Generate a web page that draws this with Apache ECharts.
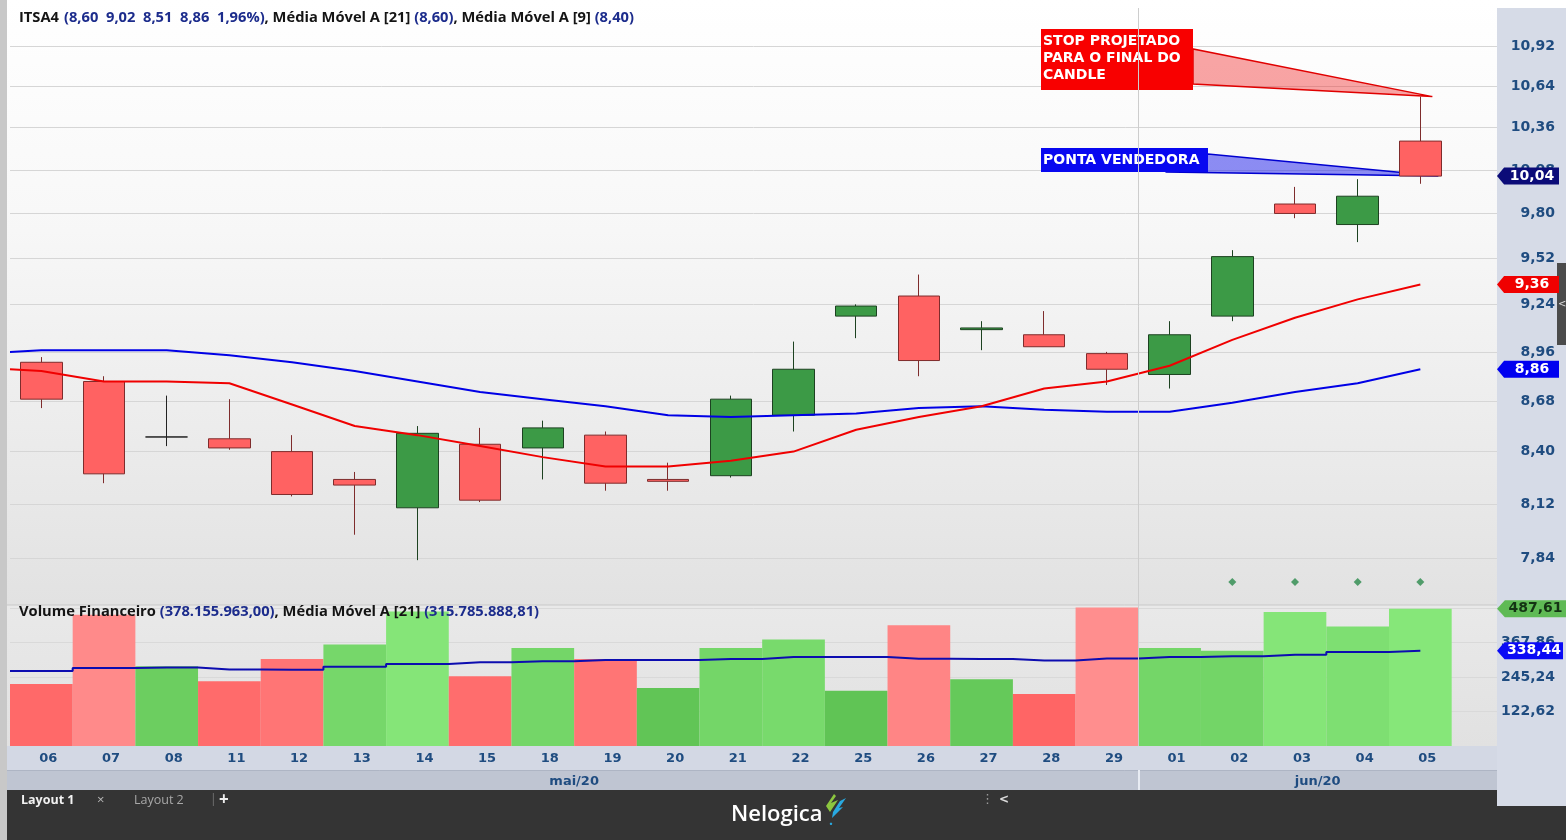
<!DOCTYPE html>
<html lang="pt-BR">
<head>
<meta charset="UTF-8">
<title>ITSA4</title>
<script src="https://cdn.jsdelivr.net/npm/echarts@6/dist/echarts.min.js"></script>
<style>
    html, body { margin: 0; padding: 0; background: #fff; }
    #main { width: 1566px; height: 840px; }
</style>
</head>
<body>
<div id="main"></div>
<script type="text/javascript">
// pregoes (mai/20 e jun/20)
var dias = ['06','07','08','11','12','13','14','15','18','19','20','21','22','25','26','27','28','29','01','02','03','04','05'];
var meses = ['mai/20', 'jun/20'];
var inicioMes = [0, 18];

// candles
var abertura   = [8.90, 8.79, 8.48, 8.47, 8.40, 8.25, 8.10, 8.44, 8.42, 8.49, 8.25, 8.27, 8.60, 9.17, 9.29, 9.09, 9.06, 8.95, 8.83, 9.17, 9.86, 9.73, 10.27];
var fechamento = [8.69, 8.28, 8.48, 8.42, 8.17, 8.22, 8.50, 8.14, 8.53, 8.23, 8.24, 8.69, 8.86, 9.23, 8.91, 9.10, 8.99, 8.86, 9.06, 9.53, 9.80, 9.91, 10.04];
var minima     = [8.64, 8.23, 8.43, 8.41, 8.16, 7.96, 7.83, 8.13, 8.25, 8.19, 8.19, 8.26, 8.51, 9.04, 8.82, 8.97, 8.99, 8.77, 8.75, 9.14, 9.77, 9.62, 9.99];
var maxima     = [8.93, 8.82, 8.71, 8.69, 8.49, 8.29, 8.54, 8.53, 8.57, 8.51, 8.34, 8.71, 9.02, 9.24, 9.42, 9.14, 9.20, 8.96, 9.14, 9.57, 9.97, 10.02, 10.57];

// medias moveis (valor na borda esquerda + um por pregao)
var mm9Ini = 8.86;
var mm9  = [8.85, 8.79, 8.79, 8.78, 8.66, 8.54, 8.49, 8.43, 8.37, 8.32, 8.32, 8.35, 8.40, 8.52, 8.59, 8.65, 8.75, 8.79, 8.88, 9.03, 9.16, 9.27, 9.36];
var mm21Ini = 8.96;
var mm21 = [8.97, 8.97, 8.97, 8.94, 8.90, 8.85, 8.79, 8.73, 8.69, 8.65, 8.60, 8.59, 8.60, 8.61, 8.64, 8.65, 8.63, 8.62, 8.62, 8.67, 8.73, 8.78, 8.86];

// volume financeiro (milhoes) e media 21
var volume = [220, 466, 283, 230, 309, 360, 478, 248, 348, 309, 206, 348, 378.155963, 196, 429, 237, 185, 492, 348, 338, 476, 424, 487.61];
var volMM21 = [266, 277, 279, 272, 271, 281, 291, 297, 301, 305, 305, 309, 315.78588881, 316, 310, 309, 304, 311, 316, 318.5, 324, 334, 338.44];

// eixos
var precoTicks = [7.84, 8.12, 8.40, 8.68, 8.96, 9.24, 9.52, 9.80, 10.08, 10.36, 10.64, 10.92];
var volTicks = [122.62, 245.24, 367.86, 490.48];

// sinais (losangos verdes)
var sinalIdx = [19, 20, 21, 22];
var sinalNivel = 7.72;

var notas = ['STOP PROJETADO\nPARA O FINAL DO\nCANDLE', 'PONTA VENDEDORA'];
var cursor = dias.indexOf('22');

// ---------------------------------------------------------------
var ln = Math.log;
var ult = dias.length - 1;
var X_MIN = -0.5, X_MAX = 23.223;
var BANDA = 1487 / (X_MAX - X_MIN);
var FONTE = 'DejaVu Sans';
var AZUL_EIXO = '#1f4c80';

function fmt(v) { return v.toFixed(2).replace('.', ','); }
function fmtMil(v) {
    var s = (v * 1e6).toFixed(2).split('.');
    return s[0].replace(/\B(?=(\d{3})+(?!\d))/g, '.') + ',' + s[1];
}
function mistura(a, b, t) {
    var r = [];
    for (var k = 0; k < 3; k++) {
        var ca = parseInt(a.substr(1 + 2 * k, 2), 16), cb = parseInt(b.substr(1 + 2 * k, 2), 16);
        r.push(Math.round(ca + (cb - ca) * t));
    }
    return 'rgb(' + r.join(',') + ')';
}
function corVolume(i) {
    var sobe = i === 0 ? fechamento[0] >= abertura[0] : fechamento[i] >= fechamento[i - 1];
    var t = Math.max(0, Math.min(1, (volume[i] - 180) / 320));
    return sobe ? mistura('#5ec253', '#88e87b', t) : mistura('#ff6464', '#ff8f8f', t);
}
function marcador(x, y, valor, cor, corTexto, largura) {
    return {
        coord: [x, y],
        value: valor,
        symbol: 'path://M0,9L8,0H70V18H8Z',
        symbolSize: [largura, 17],
        symbolOffset: [largura / 2, 0],
        itemStyle: { color: cor },
        label: {
            show: true, position: 'inside', offset: [4, 0],
            formatter: fmt(valor), color: corTexto,
            fontFamily: FONTE, fontWeight: 'bold', fontSize: 14
        }
    };
}

var candles = dias.map(function (d, i) {
    return [i, ln(abertura[i]), ln(fechamento[i]), ln(minima[i]), ln(maxima[i])];
});
var serieMM9 = [[X_MIN, ln(mm9Ini)]].concat(mm9.map(function (v, i) { return [i, ln(v)]; }));
var serieMM21 = [[X_MIN, ln(mm21Ini)]].concat(mm21.map(function (v, i) { return [i, ln(v)]; }));
var barras = dias.map(function (d, i) {
    return { value: [i, volume[i]], itemStyle: { color: corVolume(i) } };
});
var serieVolMM = [[X_MIN, volMM21[0]]].concat(volMM21.map(function (v, i) { return [i, v]; }));
var sinais = sinalIdx.map(function (i) { return [i, ln(sinalNivel)]; });

var viradaMes = inicioMes[1] - 0.5;
var centrosMes = meses.map(function (m, k) {
    var a = inicioMes[k] - 0.5;
    var b = k + 1 < meses.length ? inicioMes[k + 1] - 0.5 : X_MAX;
    return (a + b) / 2;
});

var linhaMes = {
    silent: true, symbol: 'none', label: { show: false },
    lineStyle: { color: '#cdcdcd', width: 1, type: 'solid' },
    data: [{ xAxis: viradaMes }]
};

// anotacoes desenhadas no grafico
var notaEstilo = [
    { box: [1041, 29, 152, 61], base: [[1193, 49], [1193, 84]], dx: 12, cor: '#f80000',
      fill: 'rgba(240,40,40,0.42)', stroke: '#e00000', ty: 33.5, lh: 16.7, va: 'top' },
    { box: [1041, 148, 167, 24], base: [[1208, 154], [1168, 172]], dx: 18, cor: '#0808f0',
      fill: 'rgba(30,30,235,0.5)', stroke: '#0000d0', ty: 160.5, lh: 18, va: 'middle' }
];

var cab = '{k|ITSA4} {v|(' + fmt(abertura[cursor]) + '  ' + fmt(maxima[cursor]) + '  ' + fmt(minima[cursor]) + '  ' +
    fmt(fechamento[cursor]) + '  ' + fmt((fechamento[cursor] / fechamento[cursor - 1] - 1) * 100) + '%)}' +
    '{k|, Média Móvel A [21] }{v|(' + fmt(mm21[cursor]) + ')}{k|, Média Móvel A [9] }{v|(' + fmt(mm9[cursor]) + ')}';
var cabVol = '{k|Volume Financeiro }{v|(' + fmtMil(volume[cursor]) + ')}{k|, Média Móvel A [21] }{v|(' + fmtMil(volMM21[cursor]) + ')}';
var richCab = {
    k: { color: '#141414', fontFamily: 'Open Sans', fontWeight: 'bold', fontSize: 14.7 },
    v: { color: '#1c2c8c', fontFamily: 'Open Sans', fontWeight: 'bold', fontSize: 14.7 }
};

var myChart = echarts.init(document.getElementById('main'));
myChart.setOption({
    animation: false,
    backgroundColor: '#ffffff',
    title: [
        { left: 19, top: 9, padding: 0, text: cab, textStyle: { rich: richCab } },
        { left: 19, top: 604, padding: 0, text: cabVol, textStyle: { rich: richCab } }
    ],
    graphic: [
        // fundos
        { type: 'rect', z: -10, shape: { x: 7, y: 0, width: 1490, height: 605 },
          style: { fill: { type: 'linear', x: 0, y: 0, x2: 0, y2: 1,
              colorStops: [{ offset: 0, color: '#ffffff' }, { offset: 0.35, color: '#f8f8f8' }, { offset: 1, color: '#e2e2e2' }] } } },
        { type: 'rect', z: -10, shape: { x: 7, y: 605, width: 1490, height: 141 },
          style: { fill: { type: 'linear', x: 0, y: 0, x2: 0, y2: 1,
              colorStops: [{ offset: 0, color: '#e9e9e9' }, { offset: 1, color: '#e1e1e1' }] } } },
        { type: 'line', z: -9, shape: { x1: 7, y1: 605, x2: 1497, y2: 605 }, style: { stroke: '#c9c9c9', lineWidth: 1 } },
        { type: 'rect', z: -10, shape: { x: 1497, y: 8, width: 69, height: 798 }, style: { fill: '#d6dbe7' } },
        { type: 'rect', z: -10, shape: { x: 7, y: 746, width: 1490, height: 24 }, style: { fill: '#d3d8e4' } },
        { type: 'rect', z: -10, shape: { x: 7, y: 770, width: 1490, height: 20 }, style: { fill: '#bfc5d2' } },
        { type: 'line', z: -9, shape: { x1: 7, y1: 770.5, x2: 1497, y2: 770.5 }, style: { stroke: '#aeb5c4', lineWidth: 1 } },
        { type: 'rect', z: -10, shape: { x: 0, y: 0, width: 7, height: 840 }, style: { fill: '#c8c8c8' } },
        { type: 'rect', z: -10, shape: { x: 7, y: 790, width: 1490, height: 50 }, style: { fill: '#343434' } },
        { type: 'rect', z: -10, shape: { x: 1497, y: 806, width: 69, height: 34 }, style: { fill: '#343434' } },
        { type: 'rect', z: 5, shape: { x: 1557, y: 263, width: 9, height: 82 }, style: { fill: '#4b4b4b' } },
        { type: 'text', z: 6, x: 1558, y: 304, style: { text: '<', fill: '#ddd', font: '10px "DejaVu Sans"', verticalAlign: 'middle' } },
        // barra inferior
        { type: 'text', z: 5, x: 21, y: 800, style: { text: 'Layout 1', fill: '#f2f2f2', font: 'bold 12.5px "Open Sans"', verticalAlign: 'middle' } },
        { type: 'text', z: 5, x: 97, y: 800, style: { text: '×', fill: '#b8b8b8', font: '13px "Open Sans"', verticalAlign: 'middle' } },
        { type: 'text', z: 5, x: 134, y: 800, style: { text: 'Layout 2', fill: '#a8a8a8', font: '12.5px "Open Sans"', verticalAlign: 'middle' } },
        { type: 'text', z: 5, x: 210, y: 800, style: { text: '|', fill: '#777', font: '12px "Open Sans"', verticalAlign: 'middle' } },
        { type: 'text', z: 5, x: 219, y: 800, style: { text: '+', fill: '#eeeeee', font: 'bold 17px "Open Sans"', verticalAlign: 'middle' } },
        { type: 'text', z: 5, x: 731, y: 815, style: { text: 'Nelogica', fill: '#ffffff', font: '600 22px "Open Sans"', verticalAlign: 'middle' } },
        { type: 'text', z: 5, x: 829, y: 821, style: { text: '.', fill: '#29a9e0', font: 'bold 14px "Open Sans"', verticalAlign: 'middle' } },
        { type: 'polygon', z: 5, shape: { points: [[826, 806], [834, 794], [836, 796], [831, 803], [838, 800], [830, 812]] }, style: { fill: '#8cc63f' } },
        { type: 'polygon', z: 5, shape: { points: [[833, 812], [840, 801], [846, 798], [839, 808], [843, 807], [832, 818]] }, style: { fill: '#29a9e0' } },
        { type: 'text', z: 5, x: 981, y: 800, style: { text: '⋮', fill: '#9a9a9a', font: '13px "DejaVu Sans"', verticalAlign: 'middle' } },
        { type: 'text', z: 5, x: 999, y: 800, style: { text: '<', fill: '#dddddd', font: 'bold 12px "DejaVu Sans"', verticalAlign: 'middle' } }
    ],
    grid: [
        { left: 10, right: 69, top: 8, height: 597 },
        { left: 10, right: 69, top: 605, height: 141 }
    ],
    xAxis: [
        { gridIndex: 0, type: 'value', min: X_MIN, max: X_MAX, show: false },
        { gridIndex: 1, type: 'value', min: X_MIN, max: X_MAX,
          axisLine: { show: false }, axisTick: { show: false }, splitLine: { show: false },
          axisLabel: { customValues: dias.map(function (d, i) { return i; }),
              formatter: function (v) { return dias[Math.round(v)]; },
              margin: 6, padding: [0, 0, 0, 14], color: AZUL_EIXO,
              fontFamily: FONTE, fontWeight: 'bold', fontSize: 13 } },
        { gridIndex: 1, type: 'value', min: X_MIN, max: X_MAX, position: 'bottom', offset: 24,
          axisLine: { show: false }, splitLine: { show: false },
          axisTick: { show: true, customValues: [viradaMes], length: 20, lineStyle: { color: '#e8ecf3', width: 2 } },
          axisLabel: { customValues: centrosMes,
              formatter: function (v) {
                  var k = 0;
                  centrosMes.forEach(function (c, j) { if (Math.abs(c - v) < Math.abs(centrosMes[k] - v)) k = j; });
                  return meses[k];
              },
              margin: 5, color: AZUL_EIXO, fontFamily: FONTE, fontWeight: 'bold', fontSize: 13 } }
    ],
    yAxis: [
        { gridIndex: 0, type: 'value', position: 'right', min: ln(7.606), max: ln(11.194),
          axisLine: { show: false },
          axisTick: { show: false, customValues: precoTicks.map(ln) },
          splitLine: { show: true, lineStyle: { color: '#d6d6d6', width: 1 } },
          axisLabel: { customValues: precoTicks.map(ln),
              formatter: function (v) { return fmt(Math.exp(v)); },
              align: 'right', margin: 58, padding: [6, 0, 0, 0],
              color: AZUL_EIXO, fontFamily: FONTE, fontWeight: 'bold', fontSize: 14 } },
        { gridIndex: 1, type: 'value', position: 'right', min: 0, max: 500.7,
          axisLine: { show: false },
          axisTick: { show: false, customValues: volTicks },
          splitLine: { show: true, lineStyle: { color: '#d9d9d9', width: 1 } },
          axisLabel: { customValues: volTicks,
              formatter: function (v) { return fmt(v); },
              align: 'right', margin: 58, padding: [5, 0, 0, 0],
              color: AZUL_EIXO, fontFamily: FONTE, fontWeight: 'bold', fontSize: 14 } }
    ],
    series: [
        {
            name: 'ITSA4', type: 'candlestick', xAxisIndex: 0, yAxisIndex: 0,
            data: candles, barWidth: 42,
            itemStyle: {
                color: '#3c9a46', color0: '#ff6262',
                borderColor: '#1d4221', borderColor0: '#7e2c2c',
                borderColorDoji: '#222222', borderWidth: 1
            },
            markLine: linhaMes,
            markPoint: { silent: true, data: [marcador(X_MAX, ln(fechamento[ult]), fechamento[ult], '#0b0b78', '#ffffff', 62)] }
        },
        {
            name: 'MM21', type: 'line', xAxisIndex: 0, yAxisIndex: 0, data: serieMM21,
            symbol: 'none', lineStyle: { color: '#0000e6', width: 2 },
            markPoint: { silent: true, data: [marcador(X_MAX, ln(mm21[ult]), mm21[ult], '#0000f0', '#ffffff', 62)] }
        },
        {
            name: 'MM9', type: 'line', xAxisIndex: 0, yAxisIndex: 0, data: serieMM9,
            symbol: 'none', lineStyle: { color: '#f00000', width: 2 },
            markPoint: { silent: true, data: [marcador(X_MAX, ln(mm9[ult]), mm9[ult], '#f00000', '#ffffff', 62)] }
        },
        {
            name: 'Sinal', type: 'scatter', xAxisIndex: 0, yAxisIndex: 0, data: sinais,
            symbol: 'diamond', symbolSize: 8, itemStyle: { color: '#2b8a4b' }
        },
        {
            name: 'Notas', type: 'custom', xAxisIndex: 0, yAxisIndex: 0,
            data: [[ult, ln(maxima[ult])], [ult, ln(fechamento[ult])]],
            renderItem: function (params, api) {
                var e = notaEstilo[params.dataIndex];
                var p = api.coord([api.value(0), api.value(1)]);
                var tip = [p[0] + e.dx, p[1]];
                return {
                    type: 'group',
                    children: [
                        { type: 'polygon', shape: { points: [e.base[0], e.base[1], tip] },
                          style: { fill: e.fill, stroke: e.stroke, lineWidth: 1.5 } },
                        { type: 'rect', shape: { x: e.box[0], y: e.box[1], width: e.box[2], height: e.box[3] },
                          style: { fill: e.cor } },
                        { type: 'text', x: e.box[0] + 2, y: e.ty,
                          style: { text: notas[params.dataIndex], fill: '#ffffff', fontFamily: FONTE,
                              fontWeight: 'bold', fontSize: 14, lineHeight: e.lh, verticalAlign: e.va } }
                    ]
                };
            }
        },
        {
            name: 'Volume', type: 'bar', xAxisIndex: 1, yAxisIndex: 1,
            data: barras, barWidth: BANDA,
            markLine: linhaMes,
            markPoint: { silent: true, data: [marcador(X_MAX, volume[ult], volume[ult], '#5fba55', '#143314', 69)] }
        },
        {
            name: 'Vol MM21', type: 'line', xAxisIndex: 1, yAxisIndex: 1, data: serieVolMM,
            step: 'middle', symbol: 'none', lineStyle: { color: '#0c0cb0', width: 2 },
            markPoint: { silent: true, data: [marcador(X_MAX, volMM21[ult], volMM21[ult], '#0a0af5', '#ffffff', 66)] }
        }
    ]
});
</script>
</body>
</html>
